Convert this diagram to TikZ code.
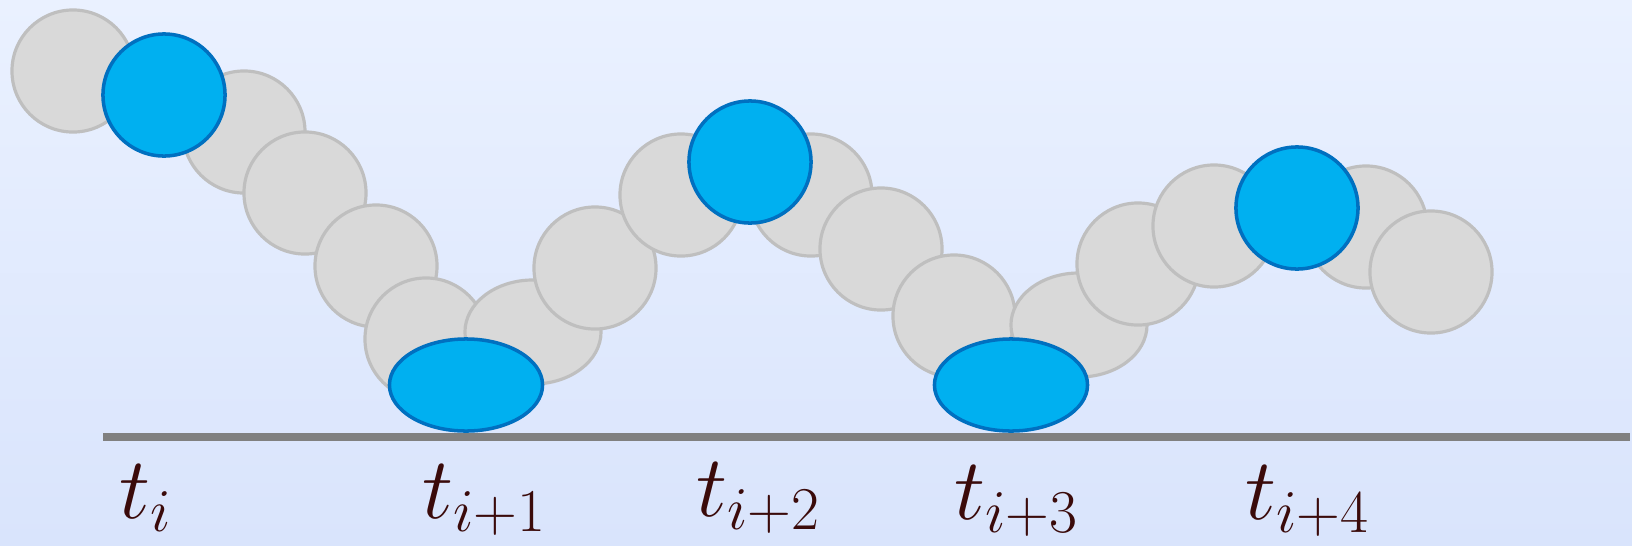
\documentclass[tikz,border=0pt]{standalone}
\usepackage{xcolor}
\usepackage{tikz}
\usetikzlibrary{shapes.geometric}
\DeclareMathSizes{24.88}{24.88}{17.28}{12}
\definecolor{bgtop}{HTML}{EAF1FF}
\definecolor{bgbot}{HTML}{D9E4FC}
\definecolor{beadgray}{HTML}{D9D9D9}
\definecolor{beadline}{HTML}{BFBFBF}
\definecolor{keyblue}{HTML}{00B0F0}
\definecolor{keyline}{HTML}{0070C0}
\definecolor{axisgray}{HTML}{808080}
\definecolor{labelink}{HTML}{3A0A0A}
\tikzset{
  bead/.style   ={circle,draw=beadline,fill=beadgray,line width=0.9pt,
                  inner sep=0pt,minimum size=1.22cm},
  squash/.style ={ellipse,draw=beadline,fill=beadgray,line width=0.9pt,
                  inner sep=0pt,minimum width=1.36cm,minimum height=1.04cm},
  key/.style    ={circle,draw=keyline,fill=keyblue,line width=1pt,
                  inner sep=0pt,minimum size=1.22cm},
  contact/.style={ellipse,draw=keyline,fill=keyblue,line width=1pt,
                  inner sep=0pt,minimum width=1.53cm,minimum height=0.92cm},
  axis/.style   ={line width=2.3pt,draw=axisgray},
  stamp/.style  ={anchor=base west,inner sep=0pt,text=labelink,
                  font=\fontsize{24.88}{30}\selectfont}
}

\begin{document}
\begin{tikzpicture}[x=0.01cm,y=-0.01cm]
    % background
    \fill[top color=bgtop,bottom color=bgbot] (0,0) rectangle (1632,545);
    \useasboundingbox (0,0) rectangle (1632,545);
    % time axis
    \coordinate (axL) at (103,437); \coordinate (axR) at (1630,437);
    \draw[axis] (axL) -- (axR);
    % grey beads, left to right
    \node[bead] (g1) at (73,71) {};
    \node[bead] (g2) at (244,132) {};
    \node[bead] (g3) at (305,193) {};
    \node[bead] (g4) at (376,266) {};
    \node[bead] (g5) at (426,339) {};
    \node[squash] (g6) at (533,332) {};
    \node[bead] (g7) at (595,268) {};
    \node[bead] (g8) at (681,195) {};
    \node[bead] (g9) at (811,195) {};
    \node[bead] (g10) at (881,249) {};
    \node[bead] (g11) at (954,316) {};
    \node[squash] (g12) at (1079,325) {};
    \node[bead] (g13) at (1138,264) {};
    \node[bead] (g14) at (1214,226) {};
    \node[bead] (g15) at (1366,227) {};
    \node[bead] (g16) at (1431,272) {};
    % blue beads on top
    \node[key] (b1) at (164,95) {};
    \node[key] (b2) at (750,162) {};
    \node[key] (b3) at (1297,208) {};
    \node[contact] (c1) at (466,385) {};
    \node[contact] (c2) at (1011,385) {};
    % time labels
    \node[stamp] (t0) at (119,518) {$t_i$};
    \node[stamp] (t1) at (422,518) {$t_{i+1}$};
    \node[stamp] (t2) at (696,516) {$t_{i+2}$};
    \node[stamp] (t3) at (954,519) {$t_{i+3}$};
    \node[stamp] (t4) at (1245,519) {$t_{i+4}$};
\end{tikzpicture}
\end{document}
